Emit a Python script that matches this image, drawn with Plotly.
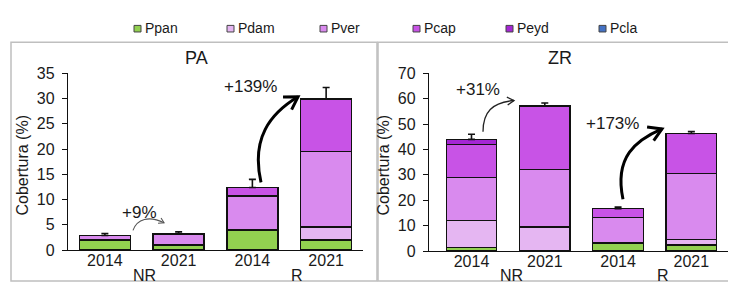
import numpy as np
import plotly.graph_objects as go

# ---------------- data ----------------
years = ["2014", "2021", "2014", "2021"]
groups = ["NR", "R"]
species = ["Ppan", "Pdam", "Pver", "Pcap", "Peyd", "Pcla"]
colors = ["#92D050", "#E5B6F2", "#D98AEE", "#C853E6", "#A526D4", "#4472C4"]

pa_Ppan = [2.0, 1.0, 4.0, 2.0]
pa_Pdam = [0.0, 0.0, 0.0, 2.6]
pa_Pver = [0.9, 2.2, 6.7, 14.9]
pa_Pcap = [0.0, 0.0, 1.7, 10.4]
pa_Peyd = [0.0, 0.0, 0.0, 0.0]
pa_Pcla = [0.0, 0.0, 0.0, 0.0]
pa_err = [0.4, 0.4, 1.6, 2.3]

zr_Ppan = [1.3, 0.0, 3.1, 2.3]
zr_Pdam = [10.8, 9.5, 0.0, 2.3]
zr_Pver = [16.8, 22.7, 10.1, 25.9]
zr_Pcap = [13.1, 25.0, 3.5, 15.8]
zr_Peyd = [2.0, 0.0, 0.0, 0.0]
zr_Pcla = [0.0, 0.0, 0.0, 0.0]
zr_err = [2.0, 1.1, 0.6, 0.8]

pa_changes = ["+9%", "+139%"]
zr_changes = ["+31%", "+173%"]
panel_titles = ["PA", "ZR"]
y_title = "Cobertura (%)"

# ---------------- layout geometry ----------------
W, H = 736, 284
FONT = "Liberation Sans, Arial, sans-serif"

panels = [
    dict(name="PA", xa="x", ya="y", xdom=(60, 355), xr=(-0.5, 3.5), ydom=(249, 61), yr=(0, 35), dtick=5,
         series=[pa_Ppan, pa_Pdam, pa_Pver, pa_Pcap, pa_Peyd, pa_Pcla], err=pa_err, changes=pa_changes),
    dict(name="ZR", xa="x2", ya="y2", xdom=(421, 720), xr=(-0.58, 3.5), ydom=(250, 61), yr=(0, 70), dtick=10,
         series=[zr_Ppan, zr_Pdam, zr_Pver, zr_Pcap, zr_Peyd, zr_Pcla], err=zr_err, changes=zr_changes),
]


def to_px(p, x, y):
    (xa, xb), (r0, r1) = p["xdom"], p["xr"]
    (ya, yb), (s0, s1) = p["ydom"], p["yr"]
    return xa + (x - r0) / (r1 - r0) * (xb - xa), ya + (y - s0) / (s1 - s0) * (yb - ya)


def paper(px, py):
    return px / W, 1 - py / H


fig = go.Figure()
xs = [0, 1, 2, 3]

for pi, p in enumerate(panels):
    for si, sp in enumerate(species):
        vals = [v if v > 0 else None for v in p["series"][si]]
        fig.add_trace(go.Bar(
            x=xs, y=vals, width=0.69, name=sp, showlegend=False,
            marker=dict(color=colors[si], line=dict(color="#111111", width=1.4)),
            xaxis=p["xa"], yaxis=p["ya"], hoverinfo="skip"))
    totals = np.sum(np.array(p["series"]), axis=0)
    fig.add_trace(go.Scatter(
        x=xs, y=totals, mode="markers", marker=dict(size=1, opacity=0), showlegend=False,
        error_y=dict(type="data", symmetric=False, array=p["err"], arrayminus=[0] * 4,
                     color="#111111", thickness=1.6, width=3.5),
        xaxis=p["xa"], yaxis=p["ya"], hoverinfo="skip"))

fig.update_layout(barmode="stack", width=W, height=H, margin=dict(l=0, r=0, t=0, b=0),
                  plot_bgcolor="white", paper_bgcolor="white", font=dict(family=FONT, color="#1a1a1a"))

for pi, p in enumerate(panels):
    sfx = "" if pi == 0 else "2"
    fig.update_layout(**{
        "xaxis" + sfx: dict(domain=[p["xdom"][0] / W, p["xdom"][1] / W], range=list(p["xr"]),
                            tickvals=xs, ticktext=years, showline=True, linecolor="#111111", linewidth=1.3,
                            ticks="", ticklen=0, showgrid=False, zeroline=False,
                            tickfont=dict(size=16, family=FONT),
                            ticklabelstandoff=-4, fixedrange=True,
                            anchor="y" + sfx),
        "yaxis" + sfx: dict(domain=[1 - p["ydom"][0] / H, 1 - p["ydom"][1] / H], range=list(p["yr"]),
                            dtick=p["dtick"], tick0=0, showline=True, linecolor="#111111", linewidth=1.3,
                            ticks="outside", ticklen=5, tickcolor="#111111", tickwidth=1.3,
                            showgrid=False, zeroline=False, tickfont=dict(size=16, family=FONT),
                            ticklabelstandoff=4, anchor="x" + sfx),
    })

shapes = []
annotations = []

# panel frames
for (x0, x1) in [(3, 369), (370, 733)]:
    a = paper(x0, 282)
    b = paper(x1, 28)
    shapes.append(dict(type="rect", xref="paper", yref="paper", x0=a[0], y0=a[1], x1=b[0], y1=b[1],
                       line=dict(color="#BFBFBF", width=1.5)))

# titles, y-titles, group labels
for pi, p in enumerate(panels):
    xl, xr_ = p["xdom"]
    tx, ty = paper((xl + xr_) / 2 - 19, 45)
    annotations.append(dict(text=panel_titles[pi], x=tx, y=ty, xref="paper", yref="paper", showarrow=False,
                            font=dict(size=18, family=FONT), xanchor="center", yanchor="middle"))
    ax_, ay_ = paper(xl - 46, 159)
    annotations.append(dict(text=y_title, x=ax_, y=ay_, xref="paper", yref="paper", showarrow=False,
                            textangle=-90, font=dict(size=16, family=FONT), xanchor="center", yanchor="middle"))
    for gi, g in enumerate(groups):
        gx = 0.5 + 2 * gi
        px_, _ = to_px(p, gx, 0)
        px_ += 3 if gi == 0 else 8
        gxp, gyp = paper(px_, 276)
        annotations.append(dict(text=g, x=gxp, y=gyp, xref="paper", yref="paper", showarrow=False,
                                font=dict(size=16, family=FONT), xanchor="center", yanchor="middle"))

# curved arrows (Bezier control points in data units of each panel)
arrows = [
    (0, [(0.381, 3.91), (0.436, 6.14), (0.598, 6.9), (0.802, 5.40)], "#555555", 1.1, 6),
    (0, [(2.117, 13.40), (1.981, 22.15), (2.239, 27.0), (2.619, 30.35)], "#000000", 3.0, 15),
    (1, [(0.157, 47.0), (0.157, 54.8), (0.279, 58.5), (0.580, 59.3)], "#222222", 1.3, 8),
    (1, [(2.067, 20.4), (1.944, 37.0), (2.244, 43.7), (2.599, 48.1)], "#000000", 3.0, 15),
]
for pi, pts, col, lw, hl in arrows:
    p = panels[pi]
    P = [np.array(to_px(p, x, y)) for x, y in pts]
    path = "M {} {} C {} {}, {} {}, {} {}".format(*[c for q in P for c in paper(*q)])
    shapes.append(dict(type="path", path=path, xref="paper", yref="paper", line=dict(color=col, width=lw)))
    d = P[3] - P[2]
    d = d / np.linalg.norm(d)
    back = -d
    segs = []
    for ang in (np.deg2rad(32), -np.deg2rad(32)):
        c, s = np.cos(ang), np.sin(ang)
        r = np.array([back[0] * c - back[1] * s, back[0] * s + back[1] * c])
        segs.append(P[3] + r * hl)
    a0 = paper(*segs[0]); t = paper(*P[3]); a1 = paper(*segs[1])
    hp = "M {} {} L {} {} L {} {}".format(a0[0], a0[1], t[0], t[1], a1[0], a1[1])
    shapes.append(dict(type="path", path=hp, xref="paper", yref="paper", line=dict(color=col, width=lw)))

# change labels
labels = [
    (0, 0.476, 7.45, pa_changes[0]),
    (0, 1.98, 32.4, pa_changes[1]),
    (1, 0.088, 63.7, zr_changes[0]),
    (1, 1.93, 50.4, zr_changes[1]),
]
for pi, x, y, txt in labels:
    p = panels[pi]
    annotations.append(dict(text=txt, x=x, y=y, xref=p["xa"], yref=p["ya"], showarrow=False,
                            font=dict(size=17, family=FONT), xanchor="center", yanchor="middle"))

# manual legend
for i, sp in enumerate(species):
    left = 126 + i * 93
    a = paper(left, 17)
    b = paper(left + 7, 10)
    shapes.append(dict(type="rect", xref="paper", yref="paper", x0=a[0], y0=a[1], x1=b[0], y1=b[1],
                       fillcolor=colors[i], line=dict(color="#444444", width=1)))
    tx, ty = paper(left + 9, 13)
    annotations.append(dict(text=sp, x=tx, y=ty, xref="paper", yref="paper", showarrow=False,
                            font=dict(size=14, family=FONT), xanchor="left", yanchor="middle"))

fig.update_layout(shapes=shapes, annotations=annotations)
fig.write_html("out.html")
